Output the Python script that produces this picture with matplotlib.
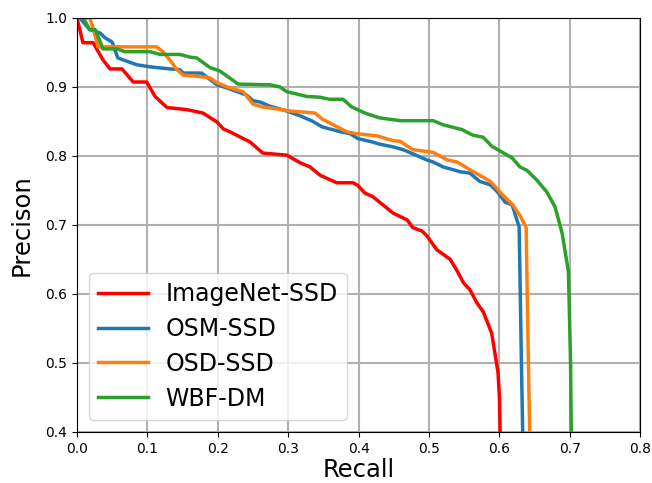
import matplotlib
matplotlib.use("Agg")
import matplotlib.pyplot as plt

red_x = [0, 0.0085, 0.023, 0.037, 0.047, 0.064, 0.08, 0.099, 0.111, 0.128, 0.156, 0.179, 0.199, 0.208, 0.217,
         0.246, 0.264, 0.298, 0.317, 0.331, 0.345, 0.369, 0.392, 0.399, 0.409, 0.420, 0.449, 0.469, 0.477,
         0.490, 0.497, 0.511, 0.530, 0.539, 0.549, 0.558, 0.568, 0.577, 0.589, 0.598, 0.600, 0.601]
red_y = [1.0, 0.964, 0.964, 0.939, 0.926, 0.926, 0.907, 0.907, 0.886, 0.870, 0.867, 0.862, 0.849, 0.839, 0.835,
         0.820, 0.804, 0.801, 0.790, 0.784, 0.772, 0.761, 0.761, 0.757, 0.746, 0.741, 0.717, 0.707, 0.696,
         0.691, 0.684, 0.664, 0.650, 0.635, 0.616, 0.606, 0.587, 0.574, 0.543, 0.486, 0.45, 0.40]

blue_x = [0, 0.004, 0.018, 0.033, 0.040, 0.050, 0.058, 0.066, 0.085, 0.104, 0.132, 0.146, 0.151, 0.177, 0.199,
          0.217, 0.241, 0.25, 0.26, 0.274, 0.298, 0.317, 0.335, 0.348, 0.374, 0.388, 0.399, 0.416, 0.430,
          0.449, 0.463, 0.477, 0.497, 0.506, 0.520, 0.544, 0.558, 0.572, 0.587, 0.597, 0.608, 0.618, 0.628,
          0.631, 0.633]
blue_y = [1.0, 1.0, 0.983, 0.978, 0.971, 0.965, 0.942, 0.939, 0.932, 0.929, 0.926, 0.925, 0.920, 0.920, 0.903,
          0.897, 0.888, 0.880, 0.878, 0.872, 0.865, 0.858, 0.850, 0.842, 0.835, 0.832, 0.825, 0.821, 0.817,
          0.813, 0.809, 0.803, 0.794, 0.791, 0.784, 0.777, 0.775, 0.763, 0.758, 0.748, 0.733, 0.729, 0.697,
          0.514, 0.40]

orange_x = [0, 0.018, 0.023, 0.030, 0.042, 0.113, 0.122, 0.132, 0.142, 0.151, 0.165, 0.189, 0.199, 0.213,
            0.236, 0.25, 0.263, 0.284, 0.303, 0.338, 0.349, 0.364, 0.383, 0.398, 0.426, 0.449, 0.459, 0.477,
            0.506, 0.526, 0.540, 0.558, 0.587, 0.605, 0.619, 0.629, 0.638, 0.640, 0.643]
orange_y = [1.0, 1.0, 0.985, 0.958, 0.958, 0.958, 0.951, 0.939, 0.925, 0.917, 0.916, 0.913, 0.906, 0.900,
            0.893, 0.875, 0.871, 0.868, 0.865, 0.862, 0.853, 0.845, 0.835, 0.832, 0.829, 0.822, 0.821, 0.809,
            0.805, 0.794, 0.791, 0.780, 0.763, 0.743, 0.729, 0.714, 0.696, 0.562, 0.40]

green_x = [0, 0.009, 0.018, 0.026, 0.037, 0.057, 0.068, 0.104, 0.118, 0.146, 0.161, 0.170, 0.189, 0.203, 0.229,
           0.274, 0.288, 0.298, 0.327, 0.345, 0.359, 0.378, 0.390, 0.409, 0.430, 0.459, 0.506, 0.520, 0.547,
           0.562, 0.577, 0.589, 0.618, 0.629, 0.639, 0.653, 0.667, 0.679, 0.689, 0.698, 0.701, 0.702]
green_y = [1.0, 1.0, 0.983, 0.983, 0.955, 0.955, 0.951, 0.951, 0.947, 0.947, 0.943, 0.942, 0.928, 0.923, 0.904,
           0.903, 0.900, 0.893, 0.886, 0.885, 0.882, 0.882, 0.871, 0.862, 0.855, 0.851, 0.851, 0.845, 0.838,
           0.830, 0.827, 0.814, 0.797, 0.784, 0.779, 0.765, 0.748, 0.726, 0.688, 0.632, 0.50, 0.40]

labels = ["ImageNet-SSD", "OSM-SSD", "OSD-SSD", "WBF-DM"]
colors = ["red", "#1f77b4", "#ff7f0e", "#2ca02c"]

fig = plt.figure(figsize=(6.52, 4.83), dpi=100)
ax = fig.add_axes([0.118, 0.106, 0.864, 0.857])
for xs, ys, lab, c in zip([red_x, blue_x, orange_x, green_x], [red_y, blue_y, orange_y, green_y], labels, colors):
    ax.plot(xs, ys, color=c, lw=2.5, label=lab)
ax.set_xlim(0, 0.8)
ax.set_ylim(0.4, 1.0)
ax.set_xticks([0.0, 0.1, 0.2, 0.3, 0.4, 0.5, 0.6, 0.7, 0.8])
ax.set_yticks([0.4, 0.5, 0.6, 0.7, 0.8, 0.9, 1.0])
ax.grid(True, color="#b0b0b0", lw=1.5)
ax.set_axisbelow(True)
ax.set_xlabel("Recall", fontsize=17.5, labelpad=2)
ax.set_ylabel("Precison", fontsize=17.5, labelpad=8)
ax.tick_params(labelsize=10)
ax.legend(loc="lower left", fontsize=17, handlelength=2.1, labelspacing=0.46,
          handletextpad=0.75, borderpad=0.4, borderaxespad=0.5)
fig.savefig("out.png", dpi=100)
